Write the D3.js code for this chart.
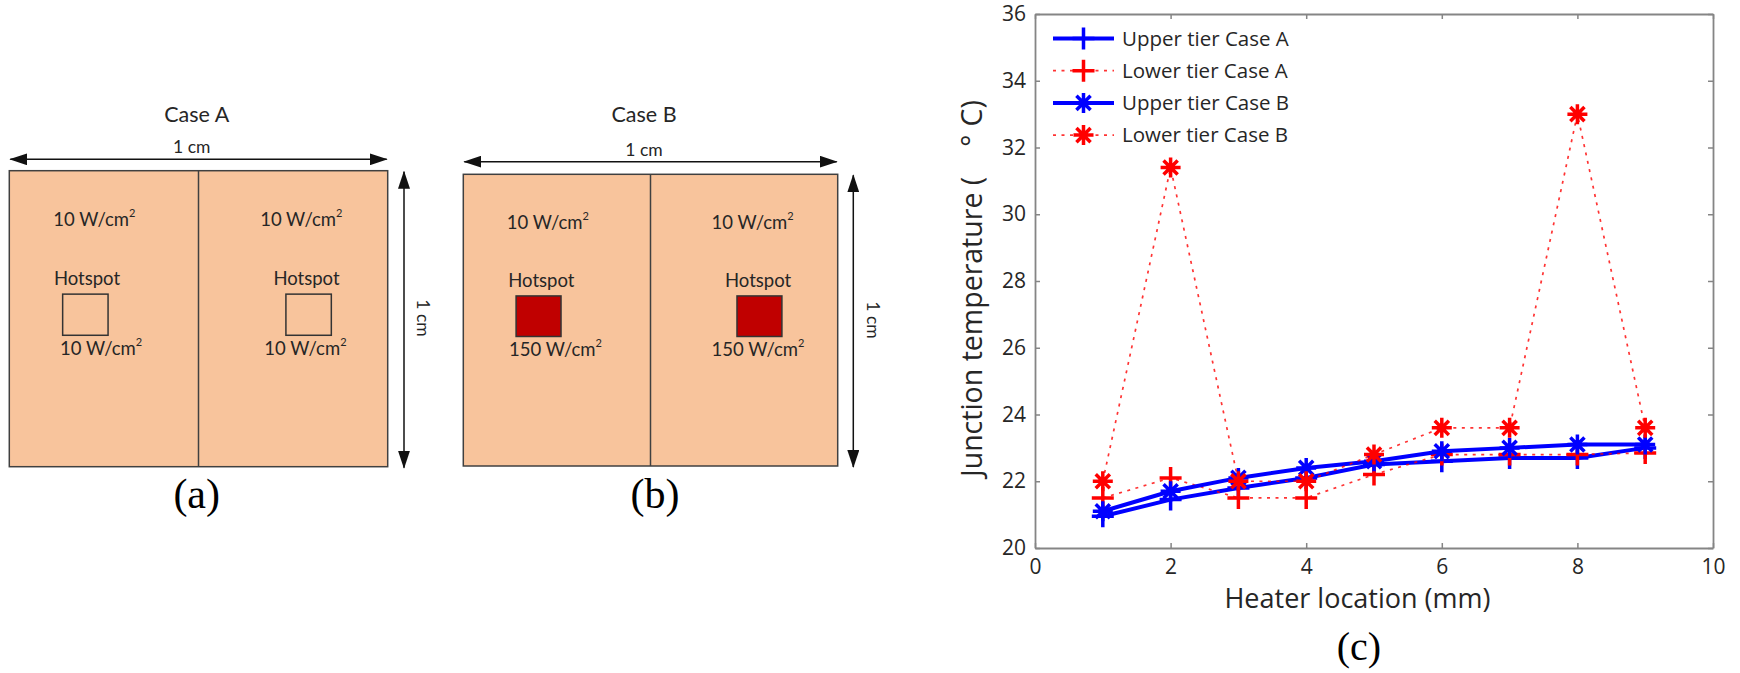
<!DOCTYPE html>
<html>
<head>
<meta charset="utf-8">
<script src="https://cdn.jsdelivr.net/npm/d3@7"></script>
<style>
  html, body { margin: 0; padding: 0; background: #fff; }
  svg { display: block; }
</style>
</head>
<body>
<div id="svg-container"></div>
<script>
// ---- chart data (c) ----
const heaterLoc = [1, 2, 3, 4, 5, 6, 7, 8, 9];
const upperTierA = [20.95, 21.45, 21.8, 22.1, 22.5, 22.6, 22.7, 22.7, 23.0];
const lowerTierA = [21.5, 22.1, 21.5, 21.5, 22.2, 22.8, 22.8, 22.8, 22.85];
const upperTierB = [21.1, 21.7, 22.1, 22.4, 22.6, 22.9, 23.0, 23.1, 23.1];
const lowerTierB = [22.0, 31.4, 22.0, 22.0, 22.8, 23.6, 23.6, 33.0, 23.6];
const seriesNames = ["Upper tier Case A", "Lower tier Case A", "Upper tier Case B", "Lower tier Case B"];
const xTicks = [0, 2, 4, 6, 8, 10];
const yTicks = [20, 22, 24, 26, 28, 30, 32, 34, 36];

// ---- diagram texts (a), (b) ----
const caseTitles = ["Case A", "Case B"];
const panelTags = ["(a)", "(b)", "(c)"];
const baseFlux = ["10", "10"];
const hotFlux = ["10", "150"];

const svg = d3.select("#svg-container")
    .append("svg")
    .attr("width", 1740)
    .attr("height", 673);

const defs = svg.append("defs");
defs.append("marker")
    .attr("id", "arrowHead")
    .attr("viewBox", "0 0 18 12")
    .attr("refX", 17).attr("refY", 6)
    .attr("markerWidth", 18).attr("markerHeight", 12)
    .attr("markerUnits", "userSpaceOnUse")
    .attr("orient", "auto-start-reverse")
    .append("path")
    .attr("d", "M0,0L18,6L0,12Z")
    .attr("fill", "#111");

const diagFont = "Lato, 'Open Sans', sans-serif";
const textCol = "#262626";

// layout of the two sketch panels; inner positions are fractions of the 1 cm square
const panelLayout = [
    {left: 9.3, right: 387.7, top: 170.7, bottom: 466.7, hotFill: "none",
     titleX: 196.7, dimX: 191.7, dimY: 152.7, arrowY: 159.3, arrowX: 404, sideX: 423, sideY: 318,
     tagX: 196.7, baseX: [0.116, 0.663], spotX: [0.118, 0.698], hotX: [0.134, 0.674]},
    {left: 463.3, right: 837.7, top: 174.3, bottom: 466, hotFill: "#c00000",
     titleX: 644, dimX: 644, dimY: 156, arrowY: 161.7, arrowX: 853.3, sideX: 873, sideY: 320,
     tagX: 655, baseX: [0.116, 0.663], spotX: [0.12, 0.699], hotX: [0.122, 0.663]}
];
const spotBoxX = [[0.141, 0.261], [0.731, 0.851]];
const spotBoxY = [0.417, 0.556];

function fluxText(g, x, y, value) {
    const t = g.append("text")
        .attr("x", x).attr("y", y)
        .attr("font-family", diagFont)
        .attr("font-size", 18.5)
        .attr("fill", textCol);
    t.append("tspan").text(value + " W/cm");
    t.append("tspan").attr("font-size", 11).attr("dy", -9).text("2");
}

panelLayout.forEach((p, i) => {
    const g = svg.append("g");
    const sx = d3.scaleLinear().domain([0, 1]).range([p.left, p.right]);
    const sy = d3.scaleLinear().domain([0, 1]).range([p.top, p.bottom]);

    g.append("rect")
        .attr("x", sx(0)).attr("y", sy(0))
        .attr("width", sx(1) - sx(0)).attr("height", sy(1) - sy(0))
        .attr("fill", "#f8c49c")
        .attr("stroke", "#404040")
        .attr("stroke-width", 1.5);
    g.append("line")
        .attr("x1", sx(0.5)).attr("x2", sx(0.5))
        .attr("y1", sy(0)).attr("y2", sy(1))
        .attr("stroke", "#404040").attr("stroke-width", 1.5);

    spotBoxX.forEach((bx, k) => {
        g.append("rect")
            .attr("x", sx(bx[0])).attr("y", sy(spotBoxY[0]))
            .attr("width", sx(bx[1]) - sx(bx[0]))
            .attr("height", sy(spotBoxY[1]) - sy(spotBoxY[0]))
            .attr("fill", p.hotFill)
            .attr("stroke", "#333")
            .attr("stroke-width", 1.5);
        fluxText(g, sx(p.baseX[k]), sy(0.187), baseFlux[i]);
        g.append("text")
            .attr("x", sx(p.spotX[k])).attr("y", sy(0.386))
            .attr("font-family", diagFont).attr("font-size", 18.5)
            .attr("fill", textCol)
            .text("Hotspot");
        fluxText(g, sx(p.hotX[k]), sy(0.622), hotFlux[i]);
    });

    // titles and dimension arrows
    g.append("text")
        .attr("x", p.titleX).attr("y", 121.7)
        .attr("text-anchor", "middle")
        .attr("font-family", diagFont).attr("font-size", 21.5)
        .attr("fill", textCol)
        .text(caseTitles[i]);
    g.append("text")
        .attr("x", p.dimX).attr("y", p.dimY)
        .attr("text-anchor", "middle")
        .attr("font-family", diagFont).attr("font-size", 17.5)
        .attr("fill", textCol)
        .text("1 cm");
    g.append("line")
        .attr("x1", sx(0) + 1).attr("x2", sx(1) - 1)
        .attr("y1", p.arrowY).attr("y2", p.arrowY)
        .attr("stroke", "#111").attr("stroke-width", 1.5)
        .attr("marker-start", "url(#arrowHead)")
        .attr("marker-end", "url(#arrowHead)");
    g.append("line")
        .attr("x1", p.arrowX).attr("x2", p.arrowX)
        .attr("y1", sy(0) + 1).attr("y2", sy(1) + 1)
        .attr("stroke", "#111").attr("stroke-width", 1.5)
        .attr("marker-start", "url(#arrowHead)")
        .attr("marker-end", "url(#arrowHead)");
    g.append("text")
        .attr("transform", `translate(${p.sideX},${p.sideY}) rotate(90)`)
        .attr("text-anchor", "middle")
        .attr("dy", "0.35em")
        .attr("font-family", diagFont).attr("font-size", 17.5)
        .attr("fill", textCol)
        .text("1 cm");
    g.append("text")
        .attr("x", p.tagX).attr("y", 508)
        .attr("text-anchor", "middle")
        .attr("font-family", "'Liberation Serif', 'Times New Roman', serif")
        .attr("font-size", 42)
        .attr("fill", "#000")
        .text(panelTags[i]);
});

// ---- line chart (c) ----
const x = d3.scaleLinear().domain([0, 10]).range([1035, 1713]);
const y = d3.scaleLinear().domain([20, 36]).range([548, 14]);
const axisCol = "#858585";
const tickFont = "'Open Sans', sans-serif";

const chart = svg.append("g");

function styleAxis(g) {
    g.select(".domain").attr("stroke", axisCol).attr("stroke-width", 1.8);
    g.selectAll(".tick line").attr("stroke", axisCol).attr("stroke-width", 1.5);
    g.selectAll(".tick text")
        .attr("fill", textCol)
        .attr("font-family", tickFont)
        .attr("font-size", 21);
}

chart.append("g")
    .attr("transform", `translate(0,${y(20)})`)
    .call(d3.axisBottom(x).tickValues(xTicks).tickSizeInner(-5).tickSizeOuter(0).tickPadding(11))
    .call(styleAxis);
chart.append("g")
    .attr("transform", `translate(0,${y(36)})`)
    .call(d3.axisTop(x).tickValues(xTicks).tickSizeInner(-5).tickSizeOuter(0).tickFormat(""))
    .call(styleAxis);
chart.append("g")
    .attr("transform", `translate(${x(0)},0)`)
    .call(d3.axisLeft(y).tickValues(yTicks).tickSizeInner(-5).tickSizeOuter(0).tickPadding(9))
    .call(styleAxis);
chart.append("g")
    .attr("transform", `translate(${x(10)},0)`)
    .call(d3.axisRight(y).tickValues(yTicks).tickSizeInner(-5).tickSizeOuter(0).tickFormat(""))
    .call(styleAxis);

// axis labels
chart.append("text")
    .attr("x", 1357.5).attr("y", 608)
    .attr("text-anchor", "middle")
    .attr("font-family", tickFont).attr("font-size", 27)
    .attr("fill", textCol)
    .text("Heater location (mm)");

const yLab = chart.append("text")
    .attr("transform", "translate(982,477) rotate(-90)")
    .attr("font-family", tickFont).attr("font-size", 28.5)
    .attr("fill", textCol);
yLab.append("tspan").text("Junction temperature (");
yLab.append("tspan").attr("dx", 30).text("°");
yLab.append("tspan").attr("dx", 8).text("C)");

chart.append("text")
    .attr("x", 1359).attr("y", 660)
    .attr("text-anchor", "middle")
    .attr("font-family", "'Liberation Serif', 'Times New Roman', serif")
    .attr("font-size", 40)
    .attr("fill", "#000")
    .text(panelTags[2]);

// markers
const plusPath = s => `M${-s},0H${s}M0,${-s}V${s}`;
const starPath = s => {
    let d = "";
    for (let k = 0; k < 4; k++) {
        const a = k * Math.PI / 4, dx = s * Math.cos(a), dy = s * Math.sin(a);
        d += `M${-dx},${-dy}L${dx},${dy}`;
    }
    return d;
};

const series = [
    {name: seriesNames[0], values: upperTierA, color: "#0000ff", dotted: false, marker: plusPath(11)},
    {name: seriesNames[1], values: lowerTierA, color: "#ff0000", dotted: true, marker: plusPath(11)},
    {name: seriesNames[2], values: upperTierB, color: "#0000ff", dotted: false, marker: starPath(10)},
    {name: seriesNames[3], values: lowerTierB, color: "#ff0000", dotted: true, marker: starPath(10)}
];

const line = d3.line()
    .x((d, i) => x(heaterLoc[i]))
    .y(d => y(d));

function styleLine(sel, s) {
    sel.attr("fill", "none")
        .attr("stroke", s.color)
        .attr("stroke-width", s.dotted ? 1.7 : 4)
        .attr("stroke-dasharray", s.dotted ? "3,5.5" : null)
        .attr("stroke-opacity", s.dotted ? 0.8 : 1);
}

series.forEach(s => {
    chart.append("path")
        .datum(s.values)
        .attr("d", line)
        .call(styleLine, s);
    chart.selectAll(null)
        .data(s.values)
        .enter()
        .append("path")
        .attr("transform", (d, i) => `translate(${x(heaterLoc[i])},${y(d)})`)
        .attr("d", s.marker)
        .attr("fill", "none")
        .attr("stroke", s.color)
        .attr("stroke-width", 3.5);
});

// legend
const legend = chart.append("g");
series.forEach((s, i) => {
    const ly = 38.5 + i * 32.2;
    legend.append("line")
        .attr("x1", 1053).attr("x2", 1114)
        .attr("y1", ly).attr("y2", ly)
        .call(styleLine, s);
    legend.append("path")
        .attr("transform", `translate(1083.5,${ly})`)
        .attr("d", s.marker)
        .attr("fill", "none")
        .attr("stroke", s.color)
        .attr("stroke-width", 3.5);
    legend.append("text")
        .attr("x", 1122).attr("y", ly)
        .attr("dy", "0.35em")
        .attr("font-family", tickFont).attr("font-size", 20.5)
        .attr("fill", textCol)
        .text(s.name);
});
</script>
</body>
</html>
